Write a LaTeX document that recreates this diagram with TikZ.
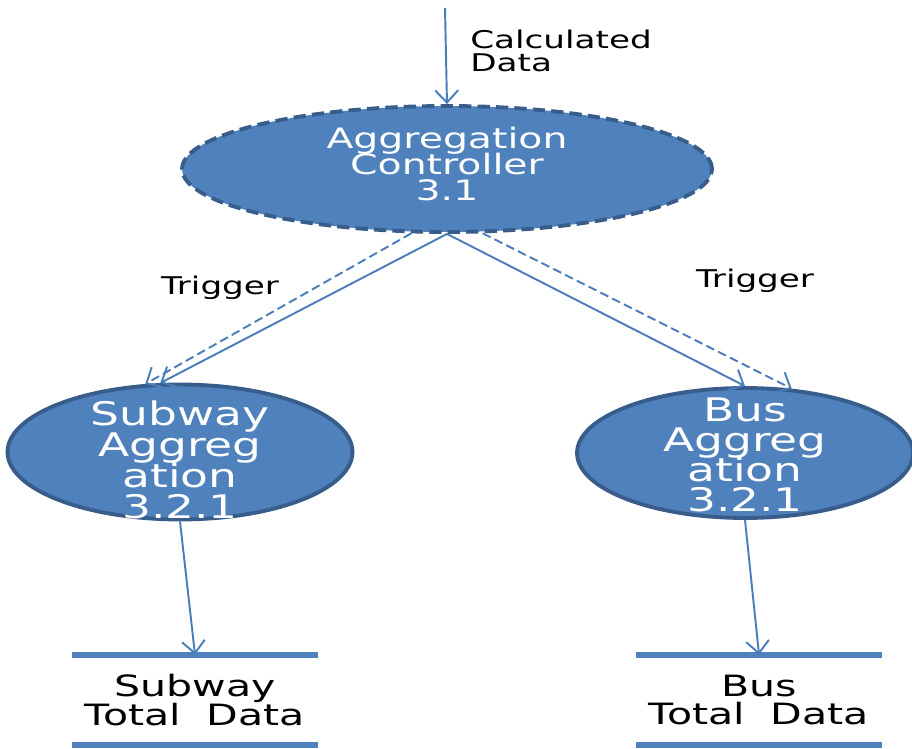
\documentclass[tikz,border=0pt]{standalone}
\usepackage{fontspec}
\setmainfont[FakeStretch=1.4]{DejaVu Sans}
\usetikzlibrary{shapes.geometric,arrows.meta}
\definecolor{procfill}{HTML}{4F81BD}
\definecolor{procline}{HTML}{385D8A}
\definecolor{flowline}{HTML}{4A7EBB}
\setlength{\lineskiplimit}{-50pt}
\tikzset{
  process/.style={ellipse, fill=procfill, draw=procline, line width=2.2pt, inner sep=0pt},
  proctext/.style={text=white, align=center, inner sep=0pt},
  flow/.style={draw=flowline, line width=1.1pt, -{Straight Barb[length=7pt,width=13pt]}},
  trigger/.style={flow, dash pattern=on 5pt off 2.5pt},
  datastore/.style={minimum width=4.9cm, minimum height=1.8cm, inner sep=0pt, align=center,
    font=\fontsize{16.7}{16.4}\selectfont},
  storeline/.style={draw=procfill, line width=3.4pt},
  lbl/.style={font=\fontsize{13.9}{13}\selectfont, inner sep=0pt}
}
\begin{document}
\begin{tikzpicture}[x=0.02cm,y=-0.02cm]
\useasboundingbox (0,0) rectangle (912,749);
% processes
\node[process, dash pattern=on 7pt off 3.5pt, minimum width=10.6cm, minimum height=2.52cm,
  label={[proctext, yshift=3pt, font=\fontsize{16}{14.7}\selectfont]center:Aggregation\\Controller\\3.1}]
  (ctrl) at (447,169) {};
\node[process, minimum width=6.9cm, minimum height=2.7cm,
  label={[proctext, yshift=-4.5pt, font=\fontsize{18.5}{17.8}\selectfont]center:Subway\\Aggreg\\ation\\3.2.1}]
  (subway) at (180,452) {};
\node[process, minimum width=6.72cm, minimum height=2.6cm,
  label={[proctext, yshift=-1pt, font=\fontsize{18.5}{17.2}\selectfont]center:Bus\\Aggreg\\ation\\3.2.1}]
  (bus) at (745,453) {};
% data stores
\node[datastore] (substore) at (195,700) {Subway\\Total\ \ Data};
\node[datastore] (busstore) at (759,700) {Bus\\Total\ \ Data};
\draw[storeline] (substore.north west) -- (substore.north east);
\draw[storeline] (substore.south west) -- (substore.south east);
\draw[storeline] (busstore.north west) -- (busstore.north east);
\draw[storeline] (busstore.south west) -- (busstore.south east);
% flows
\coordinate (src) at (445,8);
\draw[flow] (src) -- (ctrl.north);
\node[lbl, anchor=west, align=left] (calc) at (470,51) {Calculated\\Data};
\draw[trigger] (ctrl.241) -- (subway.117);
\draw[flow] (ctrl.south) -- (subway.106);
\draw[flow] (ctrl.south) -- (bus.north);
\draw[trigger] (ctrl.299) -- (bus.54);
\node[lbl] (trigl) at (220,288) {Trigger};
\node[lbl] (trigr) at (755,281) {Trigger};
\draw[flow] (subway.south) -- (substore.north);
\draw[flow] (bus.south) -- (busstore.north);
\end{tikzpicture}
\end{document}
